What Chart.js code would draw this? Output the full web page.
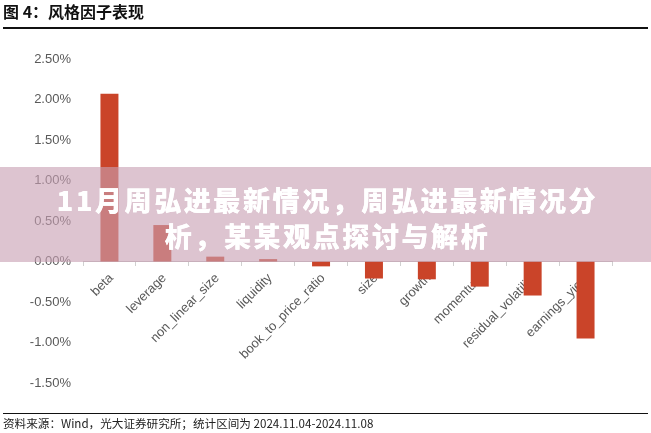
<!DOCTYPE html>
<html><head><meta charset="utf-8">
<script src="https://cdn.jsdelivr.net/npm/chart.js@4.4.1/dist/chart.umd.min.js"></script>
<style>
html,body{margin:0;padding:0;background:#fff;width:651px;height:433px;overflow:hidden;}
#wrap{position:relative;width:651px;height:433px;}
canvas{position:absolute;left:0;top:0;}
#title{position:absolute;left:3px;top:1px;font:bold 16px "Noto Sans CJK SC",sans-serif;color:#111;line-height:20px;}
#tline{position:absolute;left:3px;top:27px;width:645px;height:1.5px;background:#111;}
#bline{position:absolute;left:3px;top:413px;width:645px;height:1px;background:#111;}
#src{position:absolute;left:3px;top:415px;font:11.6px "Noto Sans CJK SC",sans-serif;color:#222;line-height:16px;}
#banner{position:absolute;left:0;top:167px;width:651px;height:95px;background:rgba(200,160,179,0.62);}
#btext{position:absolute;left:2px;top:182px;width:651px;text-align:center;font:900 27px "Noto Sans CJK SC",sans-serif;letter-spacing:2.6px;color:#fff;line-height:36px;text-shadow:0 0 0.6px #fff;}
</style></head>
<body><div id="wrap">
<canvas id="c" width="651" height="433"></canvas>
<div id="title">图 4：风格因子表现</div>
<div id="tline"></div>
<div id="banner"></div>
<div id="btext">11月周弘进最新情况，周弘进最新情况分<br>析，某某观点探讨与解析</div>
<div id="bline"></div>
<div id="src">资料来源：Wind，光大证券研究所；统计区间为 2024.11.04-2024.11.08</div>
</div>
<script>
const categories = ['beta','leverage','non_linear_size','liquidity','book_to_price_ratio','size','growth','momentum','residual_volatility','earnings_yield'];
const factorReturns = [2.07, 0.45, 0.06, 0.03, -0.06, -0.21, -0.22, -0.31, -0.42, -0.95];
const yTickMin = -1.5, yTickMax = 2.5, yTickStep = 0.5;

new Chart(document.getElementById('c'), {
  type: 'bar',
  data: {
    labels: categories,
    datasets: [{
      data: factorReturns,
      backgroundColor: '#CA4429',
      categoryPercentage: 1,
      barPercentage: 0.34
    }]
  },
  options: {
    responsive: false,
    animation: false,
    layout: {padding: {top: 59, bottom: 50, left: 0, right: 39}},
    plugins: {legend: {display: false}, tooltip: {enabled: false}},
    scales: {
      y: {
        min: yTickMin, max: yTickMax,
        afterFit: s => { s.width = 83; },
        grid: {display: false, drawTicks: false},
        border: {display: false},
        ticks: {
          stepSize: yTickStep,
          padding: 12,
          color: '#595959',
          font: {family: '"Liberation Sans", Arial, sans-serif', size: 13},
          callback: v => v.toFixed(2) + '%'
        }
      },
      x: {
        position: {y: 0},
        afterFit: s => { s.height = 0; },
        offset: true,
        grid: {drawOnChartArea: false, drawTicks: true, tickLength: 4, color: '#d0d0d0', offset: true},
        border: {display: true, color: '#c8c8c8'},
        ticks: {
          minRotation: 45, maxRotation: 45,
          padding: 5,
          labelOffset: 2,
          color: '#595959',
          font: {family: '"Liberation Sans", Arial, sans-serif', size: 13}
        }
      }
    }
  }
});
</script>
</body></html>
